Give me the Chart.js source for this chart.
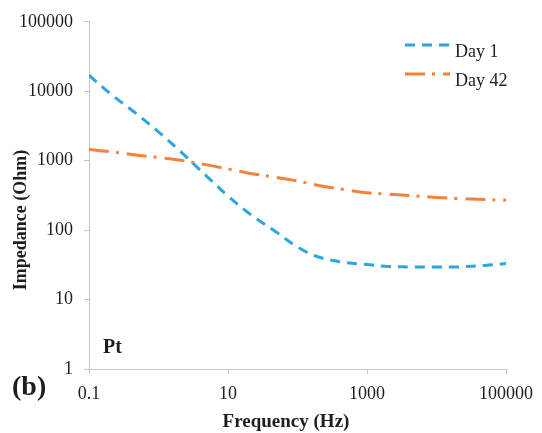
<!DOCTYPE html>
<html>
<head>
<meta charset="utf-8">
<script src="https://cdn.jsdelivr.net/npm/chart.js@4.4.1/dist/chart.umd.min.js"></script>
<style>
  html, body { margin: 0; padding: 0; background: #ffffff; }
  #wrap { width: 542px; height: 433px; position: relative; }
</style>
</head>
<body>
<div id="wrap"><canvas id="c" width="542" height="433"></canvas></div>
<script>
// ---- data ----
const frequencies = [0.1, 0.2, 0.5, 1, 2, 5, 10, 20, 50, 100, 200, 500, 1000, 2000, 5000, 10000, 20000, 50000, 100000];
const day1 = [17000, 9300, 4600, 2600, 1400, 590, 310, 175, 93, 57, 41, 34, 32, 30, 29.5, 29.5, 29.5, 31, 33];
const day42 = [1450, 1350, 1200, 1110, 1020, 870, 760, 660, 575, 510, 440, 380, 345, 330, 310, 295, 285, 275, 270];
const seriesLabels = ['Day 1', 'Day 42'];
const xTicks = [0.1, 10, 1000, 100000];
const yTicks = [1, 10, 100, 1000, 10000, 100000];
const xTitle = 'Frequency (Hz)';
const yTitle = 'Impedance (Ohm)';
const panelLabel = '(b)';
const materialLabel = 'Pt';

const BLUE = '#2ba6df';
const ORANGE = '#f5823a';
const AXIS = '#c6c6c6';
const TEXT = '#1e1e1e';
const SERIF = '"Liberation Serif", "Times New Roman", serif';

function toPoints(xs, ys) { return xs.map((x, i) => ({ x: x, y: ys[i] })); }

const overlay = {
  id: 'overlay',
  afterDraw(chart) {
    const ctx = chart.ctx;
    ctx.save();
    ctx.fillStyle = TEXT;
    // axis titles
    ctx.font = 'bold 19px ' + SERIF;
    ctx.textAlign = 'center';
    ctx.textBaseline = 'alphabetic';
    ctx.fillText(xTitle, 286, 427);
    ctx.save();
    ctx.font = 'bold 18px ' + SERIF;
    ctx.translate(21, 220);
    ctx.rotate(-Math.PI / 2);
    ctx.textBaseline = 'middle';
    ctx.fillText(yTitle, 0, 0);
    ctx.restore();
    // Pt and (b)
    ctx.textAlign = 'left';
    ctx.textBaseline = 'alphabetic';
    ctx.font = 'bold 20px ' + SERIF;
    ctx.fillText(materialLabel, 103, 353);
    ctx.font = 'bold 28px ' + SERIF;
    ctx.fillText(panelLabel, 12, 395);
    // legend
    const ys = [45, 74];
    chart.data.datasets.forEach((ds, i) => {
      ctx.save();
      ctx.strokeStyle = ds.borderColor;
      ctx.lineWidth = ds.borderWidth;
      ctx.setLineDash(ds.borderDash);
      ctx.lineCap = 'butt';
      ctx.beginPath();
      ctx.moveTo(405, ys[i]);
      ctx.lineTo(450, ys[i]);
      ctx.stroke();
      ctx.restore();
      ctx.font = '18px ' + SERIF;
      ctx.fillStyle = TEXT;
      ctx.fillText(ds.label, 455, ys[i] + 12);
    });
    ctx.restore();
  }
};

new Chart(document.getElementById('c'), {
  type: 'scatter',
  data: {
    datasets: [
      {
        label: seriesLabels[0],
        data: toPoints(frequencies, day1),
        showLine: true,
        borderColor: BLUE,
        backgroundColor: BLUE,
        borderWidth: 3,
        borderDash: [10, 7],
        pointRadius: 0,
        tension: 0.35
      },
      {
        label: seriesLabels[1],
        data: toPoints(frequencies, day42),
        showLine: true,
        borderColor: ORANGE,
        backgroundColor: ORANGE,
        borderWidth: 3,
        borderDash: [20, 7, 3, 8],
        pointRadius: 0,
        tension: 0.35
      }
    ]
  },
  options: {
    responsive: false,
    animation: false,
    devicePixelRatio: 1,
    layout: { padding: { top: 21, right: 32, left: 0, bottom: 0 } },
    plugins: {
      legend: { display: false },
      title: { display: false },
      tooltip: { enabled: false }
    },
    scales: {
      x: {
        type: 'logarithmic',
        min: 0.1,
        max: 100000,
        afterBuildTicks: s => { s.ticks = xTicks.map(v => ({ value: v })); },
        afterFit: s => { s.height = 433 - 369; },
        ticks: {
          autoSkip: false,
          maxRotation: 0,
          padding: 9,
          color: TEXT,
          font: { family: SERIF, size: 18 },
          callback: v => String(v)
        },
        grid: { display: true, drawOnChartArea: false, drawTicks: true, tickLength: 5, color: AXIS, lineWidth: 1 },
        border: { display: true, color: AXIS, width: 1 }
      },
      y: {
        type: 'logarithmic',
        min: 1,
        max: 100000,
        afterBuildTicks: s => { s.ticks = yTicks.map(v => ({ value: v })); },
        afterFit: s => { s.width = 89; },
        ticks: {
          autoSkip: false,
          padding: 11,
          color: TEXT,
          font: { family: SERIF, size: 18 },
          callback: v => String(v)
        },
        grid: { display: true, drawOnChartArea: false, drawTicks: true, tickLength: 5, color: AXIS, lineWidth: 1 },
        border: { display: true, color: AXIS, width: 1 }
      }
    }
  },
  plugins: [overlay]
});
</script>
</body>
</html>
